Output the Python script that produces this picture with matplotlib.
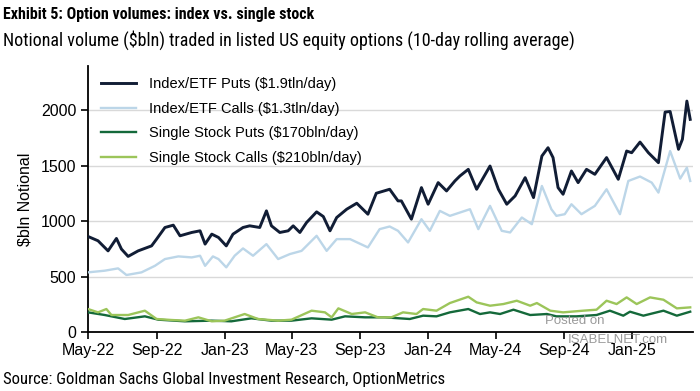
import matplotlib

matplotlib.use("Agg")
import matplotlib.pyplot as plt
import matplotlib.dates as mdates
from matplotlib import font_manager
import pandas as pd

# ---------------------------------------------------------------------------
# Data ($bln notional, 10-day rolling average)
# ---------------------------------------------------------------------------
idx_puts_dates = [
    "2022-05-01", "2022-05-19", "2022-06-06", "2022-06-21", "2022-06-30",
    "2022-07-12", "2022-07-30", "2022-08-23", "2022-09-01", "2022-09-16",
    "2022-10-01", "2022-10-13", "2022-11-03", "2022-11-18", "2022-11-27",
    "2022-12-09", "2022-12-21", "2023-01-04", "2023-01-16", "2023-02-03",
    "2023-02-15", "2023-03-05", "2023-03-17", "2023-03-26", "2023-04-10",
    "2023-04-25", "2023-05-04", "2023-05-16", "2023-05-28", "2023-06-15",
    "2023-06-27", "2023-07-09", "2023-07-21", "2023-08-08", "2023-08-26",
    "2023-09-15", "2023-09-30", "2023-10-24", "2023-11-08", "2023-11-14",
    "2023-12-02", "2023-12-20", "2024-01-01", "2024-01-19", "2024-02-03",
    "2024-02-18", "2024-02-27", "2024-03-13", "2024-03-28", "2024-04-21",
    "2024-05-06", "2024-05-21", "2024-06-05", "2024-06-23", "2024-07-08",
    "2024-07-23", "2024-08-03", "2024-08-12", "2024-08-21", "2024-08-30",
    "2024-09-14", "2024-09-26", "2024-10-11", "2024-10-26", "2024-11-16",
    "2024-12-07", "2024-12-22", "2024-12-31", "2025-01-15", "2025-01-30",
    "2025-02-17", "2025-03-01", "2025-03-10", "2025-03-25", "2025-04-01",
    "2025-04-09", "2025-04-15",
]
idx_puts = [
    862, 823, 732, 844, 748, 682, 732, 777, 838, 943,
    964, 868, 898, 913, 793, 883, 853, 777, 883, 943,
    958, 943, 1093, 958, 898, 913, 958, 898, 988, 1084,
    1042, 913, 1033, 1108, 1162, 1063, 1252, 1288, 1183, 1183,
    1018, 1303, 1153, 1348, 1273, 1363, 1408, 1468, 1288, 1498,
    1288, 1153, 1228, 1393, 1213, 1588, 1663, 1574, 1303, 1243,
    1453, 1348, 1468, 1423, 1574, 1378, 1633, 1618, 1714, 1618,
    1528, 1985, 1990, 1649, 1739, 2084, 1919,
]

idx_calls_dates = [
    "2022-05-01", "2022-05-31", "2022-06-24", "2022-07-09", "2022-08-05",
    "2022-08-29", "2022-09-16", "2022-10-10", "2022-11-03", "2022-11-18",
    "2022-11-27", "2022-12-11", "2022-12-21", "2023-01-04", "2023-01-19",
    "2023-02-03", "2023-02-21", "2023-03-17", "2023-04-07", "2023-04-28",
    "2023-05-19", "2023-06-15", "2023-07-03", "2023-07-21", "2023-08-14",
    "2023-09-15", "2023-10-06", "2023-10-24", "2023-11-08", "2023-11-26",
    "2023-12-20", "2024-01-04", "2024-01-22", "2024-02-09", "2024-02-27",
    "2024-03-16", "2024-03-31", "2024-04-21", "2024-05-12", "2024-05-27",
    "2024-06-17", "2024-07-05", "2024-07-23", "2024-08-09", "2024-08-18",
    "2024-09-02", "2024-09-14", "2024-10-02", "2024-10-26", "2024-11-16",
    "2024-12-10", "2024-12-25", "2025-01-15", "2025-02-05", "2025-02-17",
    "2025-03-10", "2025-03-28", "2025-04-09", "2025-04-15",
]
idx_calls = [
    538, 553, 574, 514, 538, 597, 658, 682, 673, 688,
    597, 682, 658, 583, 688, 754, 688, 793, 658, 703,
    732, 868, 732, 838, 838, 763, 928, 952, 913, 808,
    1018, 913, 1093, 1048, 1078, 1108, 928, 1138, 913, 898,
    1033, 973, 1318, 1108, 1048, 1063, 1153, 1063, 1138, 1288,
    1063, 1363, 1403, 1348, 1258, 1633, 1384, 1483, 1363,
]

ss_calls_dates = [
    "2022-05-01", "2022-05-19", "2022-06-03", "2022-06-12", "2022-07-12",
    "2022-08-11", "2022-09-01", "2022-09-28", "2022-10-22", "2022-11-15",
    "2022-12-09", "2023-01-01", "2023-02-06", "2023-03-02", "2023-04-07",
    "2023-05-01", "2023-06-06", "2023-06-30", "2023-07-12", "2023-07-24",
    "2023-08-17", "2023-09-10", "2023-10-03", "2023-10-27", "2023-11-17",
    "2023-12-11", "2023-12-23", "2024-01-16", "2024-02-09", "2024-03-13",
    "2024-03-28", "2024-04-21", "2024-05-15", "2024-06-08", "2024-07-02",
    "2024-07-14", "2024-08-07", "2024-08-30", "2024-10-05", "2024-10-29",
    "2024-11-16", "2024-12-04", "2024-12-22", "2025-01-09", "2025-02-02",
    "2025-02-26", "2025-03-22", "2025-04-15",
]
ss_calls = [
    207, 177, 207, 153, 153, 192, 117, 108, 102, 132,
    96, 102, 162, 117, 102, 111, 192, 177, 132, 213,
    162, 177, 132, 132, 177, 162, 207, 192, 261, 318,
    267, 237, 252, 282, 237, 261, 192, 177, 192, 201,
    282, 252, 312, 252, 312, 291, 213, 222,
]

ss_puts_dates = [
    "2022-05-01", "2022-05-31", "2022-07-06", "2022-08-11", "2022-09-04",
    "2022-10-22", "2022-12-09", "2023-01-13", "2023-02-18", "2023-03-26",
    "2023-05-01", "2023-06-06", "2023-07-12", "2023-08-05", "2023-09-10",
    "2023-10-15", "2023-11-29", "2023-12-23", "2024-01-16", "2024-02-09",
    "2024-03-13", "2024-04-03", "2024-04-21", "2024-05-09", "2024-06-02",
    "2024-07-02", "2024-08-01", "2024-08-18", "2024-09-23", "2024-10-29",
    "2024-11-22", "2024-12-16", "2024-12-28", "2025-01-21", "2025-02-26",
    "2025-03-22", "2025-04-15",
]
ss_puts = [
    177, 153, 117, 141, 111, 96, 102, 96, 123, 102,
    102, 123, 111, 141, 132, 132, 117, 147, 141, 177,
    207, 162, 177, 162, 201, 153, 162, 141, 141, 153,
    192, 147, 183, 147, 192, 147, 183,
]

SERIES = [
    ("Index/ETF Puts ($1.9tln/day)", idx_puts_dates, idx_puts, "#111d35", 2.1),
    ("Index/ETF Calls ($1.3tln/day)", idx_calls_dates, idx_calls, "#bcd6e8", 1.7),
    ("Single Stock Puts ($170bln/day)", ss_puts_dates, ss_puts, "#14693a", 1.7),
    ("Single Stock Calls ($210bln/day)", ss_calls_dates, ss_calls, "#9cc55a", 1.7),
]

# ---------------------------------------------------------------------------
# Fonts: header / source use a condensed face if one is installed
# ---------------------------------------------------------------------------
installed = {f.name for f in font_manager.fontManager.ttflist}
narrow_stretch = {f.name for f in font_manager.fontManager.ttflist
                  if f.stretch in ("condensed", "semi-condensed", "extra-condensed")}
NARROW = "DejaVu Sans"
for cand in ["Roboto Condensed", "Open Sans Condensed", "Noto Sans Condensed",
             "Liberation Sans Narrow", "DejaVu Sans Condensed",
             "Noto Sans Display Condensed"]:
    if cand in installed:
        NARROW = cand
        break
else:
    for cand in ["Open Sans", "Noto Sans", "Roboto", "DejaVu Sans"]:
        if cand in narrow_stretch:
            NARROW = cand
            break

plt.rcParams.update({
    "font.family": ["Liberation Sans", "DejaVu Sans"],
    "font.size": 11,
})

fig = plt.figure(figsize=(7.0, 3.91), dpi=100)
ax = fig.add_axes([0.1257, 0.151, 0.8643, 0.68])

for label, dates, vals, color, lw in SERIES:
    ax.plot(pd.to_datetime(dates), vals, color=color, lw=lw,
            label=label.replace("$", r"\$"), zorder=3)

ax.set_ylim(0, 2400)
ax.set_yticks([0, 500, 1000, 1500, 2000])
ax.set_xlim(pd.Timestamp("2022-05-01"), pd.Timestamp("2025-04-20"))
ax.xaxis.set_major_locator(mdates.MonthLocator(bymonth=[1, 5, 9]))
ax.xaxis.set_major_formatter(mdates.DateFormatter("%b-%y"))

ax.grid(True, axis="y", color="#d9d9d9", lw=1.0, zorder=0)
ax.set_axisbelow(True)
for side in ("top", "right"):
    ax.spines[side].set_visible(False)
for side in ("left", "bottom"):
    ax.spines[side].set_linewidth(1.3)
    ax.spines[side].set_color("black")
ax.tick_params(axis="both", labelsize=11.5, width=1.2, length=5, color="black")
ax.tick_params(axis="x", pad=3)

ax.set_ylabel(r"\$bln Notional", fontsize=11.5, labelpad=6)

ax.legend(loc="upper left", bbox_to_anchor=(0.01, 0.985), frameon=False,
          fontsize=10.5, handlelength=2.4, labelspacing=0.72, borderpad=0,
          handletextpad=0.9)

# Titles and source
kw = dict(family=NARROW, stretch="condensed", va="baseline", ha="left")
title = fig.text(0.004, 1 - 19 / 391,
                 "Exhibit 5: Option volumes: index vs. single stock",
                 fontweight="bold", fontsize=15, **kw)
subtitle = fig.text(0.004, 1 - 46 / 391,
                    "Notional volume (\\$bln) traded in listed US equity options "
                    "(10-day rolling average)", fontsize=13, **kw)
source = fig.text(0.004, 1 - 384 / 391,
                  "Source: Goldman Sachs Global Investment Research, OptionMetrics",
                  fontsize=12, **kw)

# shrink header/source text until it fits the width seen in the reference
renderer = fig.canvas.get_renderer()
for txt, width_px in ((title, 312), (subtitle, 637), (source, 480)):
    w = txt.get_window_extent(renderer).width
    if w > width_px:
        txt.set_fontsize(txt.get_fontsize() * width_px / w)

# Watermark
fig.text(545 / 700, 1 - 321 / 391, "Posted on", fontsize=9.5,
         color="#9a9a9a", ha="left", va="center")
fig.text(568 / 700, 1 - 340 / 391, "ISABELNET.com", fontsize=9.5,
         color="#9a9a9a", ha="left", va="center")

fig.savefig("out.png", dpi=100)
